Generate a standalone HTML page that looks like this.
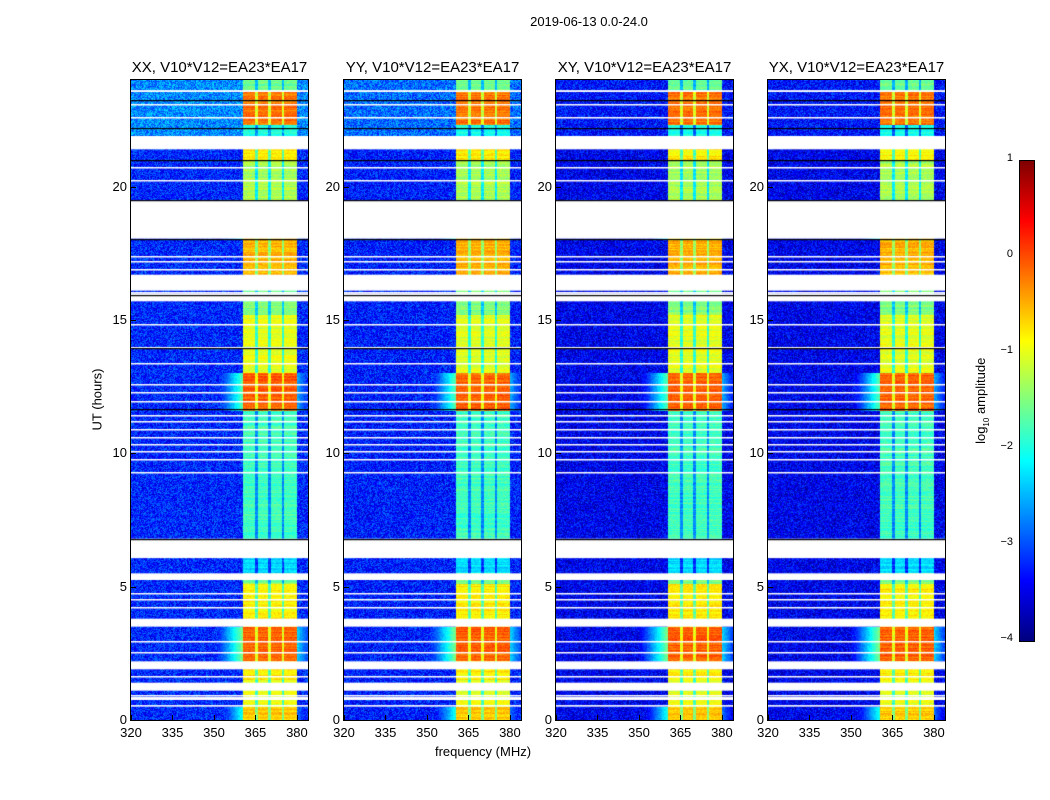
<!DOCTYPE html>
<html><head><meta charset="utf-8"><style>
body{margin:0;background:#fff;width:1050px;height:800px;overflow:hidden;position:relative;font-family:"Liberation Sans",sans-serif;}
.t{position:absolute;white-space:nowrap;color:#000}
canvas{position:absolute}
</style></head><body>
<div class="t" style="left:489px;top:14px;width:200px;text-align:center;font-size:13px">2019-06-13 0.0-24.0</div>
<div class="t" style="left:383px;top:744px;width:200px;text-align:center;font-size:13px">frequency (MHz)</div>
<div class="t" style="left:47px;top:392px;width:100px;text-align:center;font-size:13px;transform:rotate(-90deg)">UT (hours)</div>
<div class="t" style="left:932px;top:392px;width:100px;text-align:center;font-size:13px;transform:rotate(-90deg)">log<sub style="font-size:8px">10</sub> amplitude</div>
<div id="root"></div>
<script>
// ---- data ----
const panelTitles = ["XX, V10*V12=EA23*EA17","YY, V10*V12=EA23*EA17","XY, V10*V12=EA23*EA17","YX, V10*V12=EA23*EA17"];
const panelBg = [-3.2, -3.25, -3.45, -3.45];
const panelLateBg = [-2.7, -2.85, -3.3, -3.3];
const xTicks = [320,335,350,365,380];
const yTicks = [0,5,10,15,20];
const cbTicks = [1,0,-1,-2,-3,-4];
// band-level segments (hours, log10 amplitude)
const segT0 = [0.0,0.5,1.5,2.2,3.5,3.8,5.1,5.5,6.8,11.6,13.0,15.2,16.7,19.5,21.0,21.9,22.3,23.6];
const segT1 = [0.5,1.5,1.9,3.5,3.8,5.1,5.5,6.8,11.6,13.0,15.2,16.7,18.0,21.0,21.4,22.3,23.6,24.0];
const segAmp = [-0.6,-1.0,-0.8,-0.1,-0.6,-0.8,-1.5,-2.3,-1.8,-0.1,-1.0,-1.5,-0.5,-1.3,-0.8,-2.0,-0.2,-1.6];
const segShoulder = [-2.0,-6,-6,-1.5,-6,-6,-6,-6,-6,-1.7,-6,-6,-6,-6,-6,-6,-6,-6];
// flagged (white) intervals
const gapT0 = [0.5,0.75,1.1,1.9,3.5,5.25,6.07,15.7,16.1,18.05,21.4,23.55];
const gapT1 = [0.56,0.86,1.4,2.2,3.8,5.5,6.8,16.0,16.7,19.5,21.9,23.62];
const thinGaps = [0.95,1.65,2.55,2.95,4.25,4.55,4.75,9.3,9.8,10.1,10.35,10.6,10.9,11.2,11.45,11.95,12.3,12.6,13.4,14.0,14.85,16.05,16.9,17.2,17.4,20.25,20.75,22.6,23.1];
const blackLines = [6.8,11.65,13.95,15.95,18.05,19.5,21.0,22.2,23.25];
const subEdges = [365.5,370.2,375.0];
const bandLo = 360.4, bandHi = 380.0;

function jet(v){const c=x=>Math.max(0,Math.min(1,x));return [c(1.5-Math.abs(4*v-3))*255,c(1.5-Math.abs(4*v-2))*255,c(1.5-Math.abs(4*v-1))*255];}
function hash(a,b,c){let h=(a*374761393+b*668265263+c*2147483647)|0;h=(h^(h>>>13))*1274126177|0;return ((h^(h>>>16))>>>0)/4294967295;}

const root=document.getElementById('root');
const L0=[131,344,556,768], W=177, T=80, H=640;
const fx=f=>(f-320)*W/64, ty=t=>H-t*H/24;
function mk(tag,name,css,txt){const e=document.createElement(tag);e.className='t';e.style.cssText=css;if(txt!==undefined)e.textContent=txt;


root.appendChild(e);return e;}

for(let p=0;p<4;p++){
  const cv=document.createElement('canvas');cv.width=W;cv.height=H;
  cv.style.left=L0[p]+'px';cv.style.top=T+'px';
  
  
  root.appendChild(cv);
  const ctx=cv.getContext('2d');const img=ctx.createImageData(W,H);
  for(let y=0;y<H;y++){
    const t=(H-y-0.5)*24/H;
    let s=0;for(let i=0;i<segT0.length;i++){if(t>=segT0[i]&&t<segT1[i]){s=i;break;}}
    const rowN=(hash(y,p,7)-0.5)*0.3;
    for(let x=0;x<W;x++){
      const f=320+(x+0.5)*64/W;
      let v=(t>21.4?panelLateBg[p]:panelBg[p])+(hash(x,y,p)-0.5)*0.9;
      if(f>=bandLo&&f<=bandHi){
        let a=segAmp[s]+rowN+(hash(x,y,p+11)-0.5)*0.3;
        for(const e of subEdges){if(Math.abs(f-e)<0.5)a-=0.9;}
        v=Math.max(v,a);
      } else if(f>350&&f<bandLo){
        v=Math.max(v,segShoulder[s]-(bandLo-f)*0.2+(hash(x,y,p+5)-0.5)*0.3);
      } else if(f>bandHi){
        v=Math.max(v,segShoulder[s]-0.8-(f-bandHi)*0.2+(hash(x,y,p+3)-0.5)*0.3);
      }
      const c=jet(Math.max(0,Math.min(1,(v+4)/5)));
      const o=(y*W+x)*4;img.data[o]=c[0];img.data[o+1]=c[1];img.data[o+2]=c[2];img.data[o+3]=255;
    }
  }
  ctx.putImageData(img,0,0);
  ctx.fillStyle='#fff';
  for(let i=0;i<gapT0.length;i++){const a=ty(gapT1[i]),b=ty(gapT0[i]);ctx.fillRect(0,a,W,b-a);}
  for(const g of thinGaps){ctx.fillRect(0,Math.round(ty(g)),W,1.5);}
  ctx.fillStyle='#000';
  for(const g of blackLines){ctx.fillRect(0,Math.round(ty(g)),W,1.2);}
  const fr=document.createElement('div');fr.style.cssText=`position:absolute;left:${L0[p]-1}px;top:${T-1}px;width:${W}px;height:${H}px;border:1px solid #000`;
  
  
  root.appendChild(fr);
  mk('div','panel-title',`left:${L0[p]-20}px;top:59px;width:${W+40}px;text-align:center;font-size:15px`,panelTitles[p]);
  for(const v of xTicks){const x=L0[p]+fx(v);
    const tk=document.createElement('div');tk.style.cssText=`position:absolute;left:${x}px;top:${T+H-5}px;width:1px;height:5px;background:#000`;
    
    
    root.appendChild(tk);
    mk('div','x-tick-label',`left:${x-20}px;top:${T+H+5}px;width:40px;text-align:center;font-size:13px`,String(v));}
  for(const v of yTicks){const y=T+ty(v);
    const tk=document.createElement('div');tk.style.cssText=`position:absolute;left:${L0[p]}px;top:${y}px;width:5px;height:1px;background:#000`;
    
    
    root.appendChild(tk);
    mk('div','y-tick-label',`left:${L0[p]-44}px;top:${y-8}px;width:40px;text-align:right;font-size:13px`,String(v));}
}
// colorbar
const cb=document.createElement('div');
cb.style.cssText='position:absolute;left:1019px;top:160px;width:14px;height:480px;border:1px solid #000;background:linear-gradient(to top,#00007f 0%,#0000ff 12.5%,#00ffff 37.5%,#ffff00 62.5%,#ff0000 87.5%,#7f0000 100%)';


root.appendChild(cb);
for(const v of cbTicks){const y=160+(1-v)*96;
  mk('div','colorbar-tick-label',`left:975px;top:${y-8}px;width:38px;text-align:right;font-size:11px`,v<0?'\u2212'+(-v):String(v));}
</script>
</body></html>
